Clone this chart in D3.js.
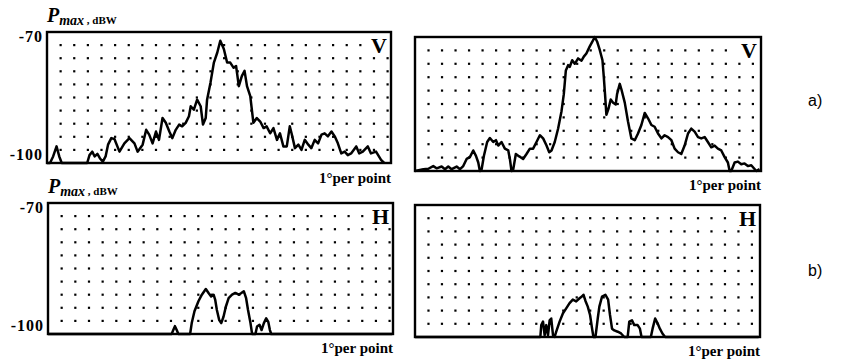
<!DOCTYPE html>
<html>
<head>
<meta charset="utf-8">
<script src="https://cdn.jsdelivr.net/npm/d3@7"></script>
<style>
  html, body { margin: 0; padding: 0; background: #fff; }
  svg { display: block; }
</style>
</head>
<body>
<svg id="chart" width="843" height="360"></svg>
<script>
// ---------- data (angle in degrees, 1° per grid point ; Pmax in dBW) ----------
const yTickValues = [-70, -100];
const gridAnglesX = [1,2,3,4,5,6,7,8,9,10,11,12,13,14,15,16,17,18,19,20,21,22,23,24,25];
const gridLevelsY = [-97,-94,-91,-88,-85,-82,-79,-76,-73];
const xUnitLabel = "1°per point";
const panelLetters = ["V", "V", "H", "H"];
const rowLabels = ["a)", "b)"];

const vLeft = [[0,-100],[0.22,-100],[0.45,-98.5],[0.7,-96.2],[0.9,-98.5],[1.08,-100],[2.95,-100],[3.12,-98.2],[3.32,-97.4],[3.5,-98.5],[3.7,-97.9],[3.88,-98.9],[4.1,-99.7],[4.3,-98.5],[4.48,-95.8],[4.72,-94.3],[4.95,-94.5],[5.32,-97.4],[5.68,-95.5],[6.05,-94.3],[6.42,-95.5],[6.65,-97.4],[7.02,-95.8],[7.28,-92.4],[7.5,-93.5],[7.75,-95.5],[8.0,-92.8],[8.22,-94.7],[8.48,-89.7],[8.72,-90.8],[8.98,-92.8],[9.2,-94.3],[9.45,-92.4],[9.7,-91.2],[9.92,-91.6],[10.18,-90.8],[10.42,-89.3],[10.55,-87.0],[10.78,-87.8],[11.02,-85.5],[11.28,-87.0],[11.45,-91.2],[11.65,-89.7],[11.75,-85.5],[12.0,-81.6],[12.25,-77.0],[12.5,-74.7],[12.72,-72.0],[12.98,-73.9],[13.22,-77.0],[13.45,-77.0],[13.7,-78.2],[13.88,-77.8],[14.08,-82.4],[14.3,-80.1],[14.5,-78.9],[14.68,-82.4],[14.92,-84.7],[15.15,-90.8],[15.4,-89.7],[15.65,-90.5],[15.9,-92.0],[16.12,-91.6],[16.38,-93.2],[16.62,-92.0],[16.88,-94.7],[17.1,-93.2],[17.35,-96.2],[17.6,-96.2],[17.82,-91.6],[17.95,-93.2],[18.2,-96.6],[18.45,-95.8],[18.68,-97.0],[18.92,-94.7],[19.18,-95.8],[19.4,-96.6],[19.65,-94.7],[19.9,-95.5],[20.15,-93.5],[20.38,-93.2],[20.62,-93.9],[20.88,-92.8],[21.12,-93.9],[21.35,-95.5],[21.6,-97.8],[21.85,-97.4],[22.08,-98.2],[22.32,-97.8],[22.7,-96.2],[22.92,-97.8],[23.18,-97.4],[23.55,-96.2],[23.78,-97.8],[24.15,-97.4],[24.52,-99.3],[24.75,-100]];

const vRight = [[0,-100],[0.62,-99.6],[0.99,-99.5],[1.35,-98.9],[1.6,-99.4],[1.97,-99.0],[2.22,-99.6],[2.46,-99.0],[2.71,-99.6],[3.08,-99.0],[3.33,-99.6],[3.57,-98.9],[3.82,-97.3],[4.06,-96.9],[4.31,-95.4],[4.51,-96.6],[4.68,-98.1],[4.8,-100],[4.93,-99.6],[5.1,-96.6],[5.34,-93.5],[5.54,-92.6],[5.79,-93.5],[5.99,-93.1],[6.16,-94.3],[6.4,-93.5],[6.65,-95.0],[6.9,-95.4],[7.02,-97.3],[7.14,-100],[7.27,-99.6],[7.46,-96.2],[7.64,-96.6],[7.81,-96.9],[8.0,-97.3],[8.25,-96.2],[8.5,-95.0],[8.74,-95.0],[8.99,-93.5],[9.24,-92.0],[9.48,-92.7],[9.73,-94.3],[9.93,-95.8],[10.1,-95.4],[10.34,-93.5],[10.59,-90.5],[10.84,-86.6],[11.01,-82.8],[11.16,-77.5],[11.33,-76.3],[11.45,-76.7],[11.63,-75.2],[11.82,-76.0],[12.07,-74.8],[12.32,-75.3],[12.49,-74.4],[12.68,-73.7],[12.93,-72.1],[13.13,-71.0],[13.3,-70.0],[13.47,-71.0],[13.67,-72.9],[13.87,-75.2],[13.97,-79.0],[14.06,-82.8],[14.16,-87.4],[14.33,-85.9],[14.48,-84.0],[14.66,-84.7],[14.85,-85.1],[14.95,-82.8],[15.15,-80.5],[15.27,-81.7],[15.52,-84.7],[15.76,-88.9],[16.01,-92.7],[16.26,-93.1],[16.5,-91.6],[16.75,-89.7],[17.0,-87.0],[17.24,-88.2],[17.49,-89.7],[17.73,-90.1],[17.98,-91.6],[18.23,-92.7],[18.47,-92.0],[18.72,-92.4],[18.97,-93.1],[19.21,-95.0],[19.46,-95.8],[19.7,-96.2],[19.95,-94.3],[20.2,-91.6],[20.44,-90.5],[20.69,-91.2],[20.94,-92.4],[21.18,-92.7],[21.43,-92.4],[21.67,-93.5],[21.92,-94.7],[22.17,-94.3],[22.41,-95.0],[22.66,-95.4],[22.91,-96.9],[23.15,-98.1],[23.28,-100],[23.4,-100],[23.65,-98.1],[23.89,-97.9],[24.14,-98.5],[24.38,-98.3],[24.63,-98.9],[24.88,-98.7],[25.25,-100],[25.49,-99.6]];

const hLeft = [[0,-100],[9.05,-100],[9.17,-99.1],[9.29,-98.2],[9.42,-99.1],[9.54,-100],[10.4,-100],[10.52,-97.5],[10.72,-94.8],[11.01,-92.5],[11.26,-91.0],[11.55,-89.7],[11.75,-90.6],[11.94,-91.4],[12.12,-91.0],[12.24,-92.2],[12.36,-94.5],[12.53,-96.8],[12.68,-97.5],[12.85,-96.0],[13.02,-93.7],[13.22,-91.8],[13.47,-91.0],[13.71,-90.6],[13.96,-91.0],[14.15,-90.6],[14.33,-90.2],[14.5,-91.8],[14.64,-94.5],[14.82,-97.5],[14.94,-100],[15.18,-100],[15.3,-98.3],[15.48,-97.9],[15.63,-99.1],[15.8,-97.5],[15.97,-96.4],[16.12,-97.2],[16.24,-99.1],[16.34,-100],[25.2,-100]];

const hRight = [[0,-100],[9.25,-100],[9.3,-100],[9.37,-97.3],[9.5,-96.5],[9.62,-99.6],[9.74,-97.3],[9.87,-99.6],[9.99,-96.2],[10.11,-95.8],[10.24,-99.6],[10.36,-100],[10.48,-98.8],[10.73,-96.5],[10.98,-94.6],[11.22,-93.5],[11.47,-92.3],[11.71,-91.5],[11.96,-91.9],[12.21,-91.2],[12.38,-90.8],[12.5,-90.4],[12.65,-91.8],[12.82,-93.1],[12.99,-95.0],[13.14,-98.1],[13.24,-100],[13.39,-100],[13.56,-95.8],[13.68,-93.1],[13.88,-90.8],[14.13,-90.4],[14.33,-91.5],[14.47,-95.0],[14.62,-98.1],[14.79,-98.5],[15.04,-98.8],[15.29,-99.2],[15.53,-100],[15.78,-100],[15.9,-96.5],[16.1,-96.2],[16.27,-97.3],[16.52,-97.3],[16.69,-98.1],[16.81,-100],[17.5,-100],[17.63,-98.1],[17.82,-95.8],[18.0,-96.9],[18.17,-98.1],[18.36,-99.2],[18.56,-100],[25.5,-100]];

// ---------- layout ----------
const svg = d3.select("#chart");
const serif = "'Liberation Serif', 'Times New Roman', serif";

const panels = [
  { data: vLeft,  letter: panelLetters[0], x0: 47,  x1: 391, y0: 32,  y1: 163, xMax: 25.25, yAxis: true,  capY: 183 },
  { data: vRight, letter: panelLetters[1], x0: 415, x1: 761, y0: 37,  y1: 171, xMax: 25.6,  yAxis: false, capY: 190 },
  { data: hLeft,  letter: panelLetters[2], x0: 48,  x1: 393, y0: 203, y1: 334, xMax: 25.25, yAxis: true,  capY: 353 },
  { data: hRight, letter: panelLetters[3], x0: 415, x1: 760, y0: 205, y1: 337, xMax: 25.6,  yAxis: false, capY: 356 }
];

panels.forEach(p => {
  const x = d3.scaleLinear().domain([0, p.xMax]).range([p.x0, p.x1]);
  const y = d3.scaleLinear().domain([-100, -70]).range([p.y1, p.y0]);
  const g = svg.append("g");

  const letter = g.append("text")
    .attr("x", x(p.xMax) - 4)
    .attr("y", y(-73) + 8)
    .attr("text-anchor", "end")
    .attr("font-family", serif)
    .attr("font-weight", "bold")
    .attr("font-size", 22)
    .text(p.letter);
  const bb = letter.node().getBBox();

  // dotted grid
  const dots = [];
  gridLevelsY.forEach(v => gridAnglesX.forEach(a => {
    const cx = x(a), cy = y(v);
    if (cx > bb.x - 3 && cx < bb.x + bb.width + 3 && cy > bb.y && cy < bb.y + bb.height) return;
    dots.push([cx, cy]);
  }));
  g.selectAll("rect.dot").data(dots).join("rect")
    .attr("class", "dot")
    .attr("x", d => d[0] - 1.1).attr("y", d => d[1] - 1.1)
    .attr("width", 2.2).attr("height", 2.2)
    .attr("fill", "#000");

  // curve
  const line = d3.line().x(d => x(d[0])).y(d => y(d[1]));
  g.append("path").datum(p.data)
    .attr("d", line)
    .attr("fill", "none")
    .attr("stroke", "#000")
    .attr("stroke-width", 2.5)
    .attr("stroke-linejoin", "round");

  // frame
  g.append("rect")
    .attr("x", p.x0).attr("y", p.y0)
    .attr("width", p.x1 - p.x0).attr("height", p.y1 - p.y0)
    .attr("fill", "none").attr("stroke", "#000").attr("stroke-width", 2.4);

  // y axis labels
  if (p.yAxis) {
    const ax = g.append("g")
      .attr("transform", `translate(${p.x0 - 3},0)`)
      .call(d3.axisLeft(y).tickValues(yTickValues).tickSize(0).tickPadding(1).tickFormat(d => String(d)));
    ax.select(".domain").remove();
    ax.selectAll("text")
      .attr("font-family", serif).attr("font-weight", "bold").attr("font-size", 16)
      .attr("letter-spacing", 1)
      .attr("fill", "#000")
      .attr("dy", d => d === -70 ? "0.6em" : "-0.2em");

    const t = g.append("text")
      .attr("x", p.x0)
      .attr("y", p.y0 - 10)
      .attr("font-family", serif).attr("font-weight", "bold").attr("fill", "#000");
    t.append("tspan").attr("font-size", 20).attr("font-style", "italic").text("P");
    t.append("tspan").attr("font-size", 14).attr("font-style", "italic").attr("dy", 3).text("max");
    t.append("tspan").attr("font-size", 11).attr("dy", -1).text(" , dBW");
  }

  // x unit caption
  g.append("text")
    .attr("x", p.x1)
    .attr("y", p.capY)
    .attr("text-anchor", "end")
    .attr("font-family", serif).attr("font-weight", "bold").attr("font-size", 15)
    .text(xUnitLabel);
});

// row labels a) b)
svg.selectAll("text.row").data(rowLabels).join("text")
  .attr("class", "row")
  .attr("x", 808)
  .attr("y", (d, i) => i === 0 ? 106 : 276)
  .attr("font-family", "'Liberation Sans', Arial, sans-serif")
  .attr("font-size", 16)
  .text(d => d);
</script>
</body>
</html>
